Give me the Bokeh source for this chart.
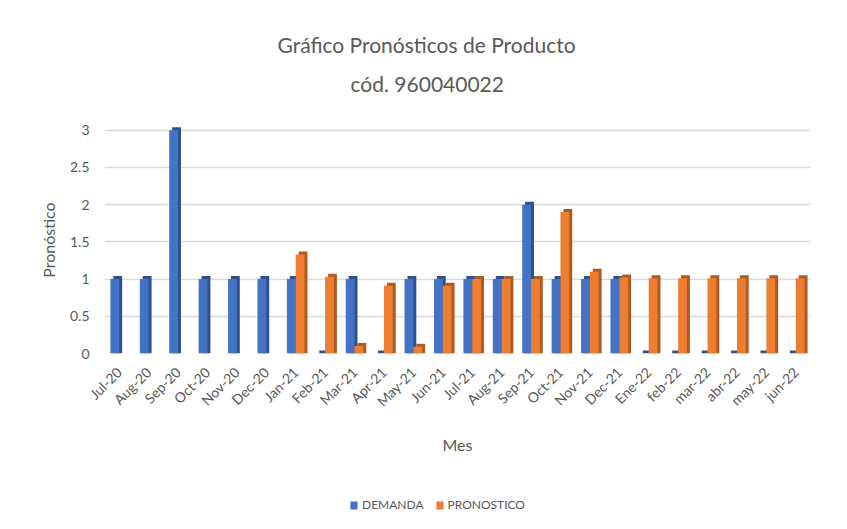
from bokeh.plotting import figure
from bokeh.models import (ColumnDataSource, Range1d, FixedTicker, CustomJSTickFormatter,
                          Legend, LegendItem, Title)
from bokeh.layouts import column
from bokeh.transform import dodge
from bokeh.embed import file_html
from bokeh.resources import INLINE
import math

# ---- data ----
months = ["Jul-20", "Aug-20", "Sep-20", "Oct-20", "Nov-20", "Dec-20",
          "Jan-21", "Feb-21", "Mar-21", "Apr-21", "May-21", "Jun-21",
          "Jul-21", "Aug-21", "Sep-21", "Oct-21", "Nov-21", "Dec-21",
          "Ene-22", "feb-22", "mar-22", "abr-22", "may-22", "jun-22"]
demanda = [1, 1, 3, 1, 1, 1,
           1, 0, 1, 0, 1, 1,
           1, 1, 2, 1, 1, 1,
           0, 0, 0, 0, 0, 0]
nan = float("nan")
pronostico = [nan, nan, nan, nan, nan, nan,
              1.33, 1.03, 0.10, 0.91, 0.09, 0.91,
              1.00, 1.00, 1.00, 1.90, 1.10, 1.02,
              1.01, 1.01, 1.01, 1.01, 1.01, 1.01]
y_ticks = [0, 0.5, 1, 1.5, 2, 2.5, 3]
series_names = ["DEMANDA", "PRONOSTICO"]

FONT = "Lato"
TXT = "#595959"
BLUE, BLUE_SIDE = "#4472C4", "#2F528F"
ORANGE, ORANGE_SIDE = "#ED7D31", "#AE5A21"
DEPTH = 0.04

src = ColumnDataSource(dict(
    m=months,
    d=demanda,
    d_back=[v + DEPTH for v in demanda],
    f=pronostico,
    f_back=[v + DEPTH if not math.isnan(v) else nan for v in pronostico],
))

W = 839
p = figure(x_range=months, y_range=Range1d(0, 3.05), width=W, height=480,
           output_backend="svg", toolbar_location=None, title=None,
           min_border_left=104, min_border_right=29, min_border_top=126,
           min_border_bottom=127)
p.outline_line_color = None
p.background_fill_color = "white"
p.border_fill_color = "white"

# bars (side/back face first, then front face)
p.vbar(x=dodge("m", -0.05, range=p.x_range), top="d_back", bottom=0, width=0.3,
       source=src, fill_color=BLUE_SIDE, line_color=None)
p.vbar(x=dodge("m", -0.15, range=p.x_range), top="d", bottom=0, width=0.3,
       source=src, fill_color=BLUE, line_color=None)
p.vbar(x=dodge("m", 0.25, range=p.x_range), top="f_back", bottom=0, width=0.3,
       source=src, fill_color=ORANGE_SIDE, line_color=None)
p.vbar(x=dodge("m", 0.15, range=p.x_range), top="f", bottom=0, width=0.3,
       source=src, fill_color=ORANGE, line_color=None)

# axes
p.xgrid.grid_line_color = None
p.ygrid.grid_line_color = "#d9d9d9"
p.ygrid.grid_line_width = 1.4
p.yaxis.ticker = FixedTicker(ticks=y_ticks)
p.yaxis.formatter = CustomJSTickFormatter(code="return tick.toString();")
for ax in (p.xaxis[0], p.yaxis[0]):
    ax.axis_line_color = None
    ax.major_tick_line_color = None
    ax.minor_tick_line_color = None
    ax.major_label_text_font = FONT
    ax.major_label_text_color = TXT
    ax.axis_label_text_font = FONT
    ax.axis_label_text_color = TXT
    ax.axis_label_text_font_style = "normal"
    ax.axis_label_text_font_size = "16px"

p.yaxis.major_label_text_font_size = "14px"
p.yaxis.major_label_standoff = 9
p.yaxis.axis_label = "Pronóstico"
p.yaxis.axis_label_standoff = 9

p.xaxis.major_label_text_font_size = "14px"
p.xaxis.major_label_orientation = math.pi / 4
p.xaxis.major_label_standoff = 10
p.xaxis.axis_label = "Mes"
p.xaxis.axis_label_standoff = 16

# titles: spacer closest to the plot, then the two title lines
p.add_layout(Title(text=" ", text_font=FONT, text_font_size="1px", standoff=18), "above")
p.add_layout(Title(text="cód. 960040022", align="left", text_font=FONT,
                   text_font_size="21px", text_font_style="normal",
                   text_color=TXT, standoff=20, offset=246), "above")
p.add_layout(Title(text="Gráfico Pronósticos de Producto", align="left",
                   text_font=FONT, text_font_size="21px", text_font_style="normal",
                   text_color=TXT, standoff=4, offset=173), "above")

# legend strip below the chart (legend keys reuse the data, drawn out of view)
lg = figure(width=W, height=41, output_backend="svg", toolbar_location=None,
            x_range=months, y_range=Range1d(10, 11),
            x_axis_type=None, y_axis_type=None, title=None,
            min_border_left=0, min_border_right=0,
            min_border_top=0, min_border_bottom=0)
lg.outline_line_color = None
lg.xgrid.grid_line_color = None
lg.ygrid.grid_line_color = None
k_d = lg.vbar(x="m", top="d", bottom=0, width=0.3, source=src,
              fill_color=BLUE, line_color=None)
k_f = lg.vbar(x="m", top="f", bottom=0, width=0.3, source=src,
              fill_color=ORANGE, line_color=None)
legend = Legend(items=[LegendItem(label=series_names[0], renderers=[k_d]),
                       LegendItem(label=series_names[1], renderers=[k_f])],
                orientation="horizontal", location=(245, 9),
                label_text_font=FONT, label_text_font_size="12px",
                label_text_color=TXT, glyph_width=9, glyph_height=10,
                spacing=11, label_standoff=4, border_line_color=None,
                background_fill_alpha=0, padding=2, margin=0)
lg.add_layout(legend, "center")

open("out.html", "w").write(file_html(column(p, lg, spacing=0), INLINE))
